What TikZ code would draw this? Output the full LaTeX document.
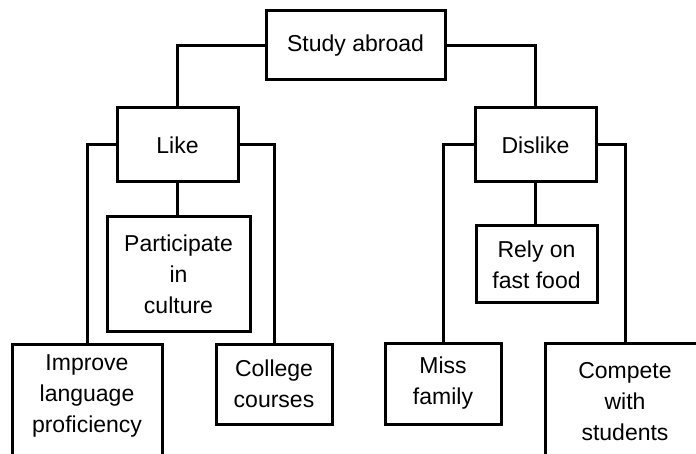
\documentclass[tikz,border=0pt]{standalone}
\usepackage{fontspec}
\setmainfont{Liberation Sans}

\begin{document}
\begin{tikzpicture}[x=1pt, y=-1pt,
    box/.style={draw, line width=3pt, inner sep=0pt, align=center, font=\fontsize{23}{31}\selectfont},
    txt/.style={align=center, inner sep=0pt, font=\fontsize{23}{31}\selectfont},
    link/.style={line width=3pt}]
    % Page frame (the two bottom corner boxes run off the edge)
    \useasboundingbox (0,0) rectangle (696,454);
    \clip (0,0) rectangle (696,454);

    % Root and the two branches
    \node[box, minimum width=179pt, minimum height=69pt] (root) at (355.5,45.5) {Study abroad};
    \node[box, minimum width=121pt, minimum height=74pt] (like) at (177.5,145) {Like};
    \node[box, minimum width=121pt, minimum height=74pt] (dislike) at (535.5,145) {Dislike};

    % Like side
    \node[box, minimum width=143pt, minimum height=114pt] (culture) at (178.5,274) {Participate\\in\\culture};
    \node[box, minimum width=150pt, minimum height=130pt] (lang) at (87,409) {};
    \node[txt] (langtxt) at (87,396) {Improve\\language\\proficiency};
    \node[box, minimum width=116pt, minimum height=80pt] (college) at (274,384) {College\\courses};

    % Dislike side
    \node[box, minimum width=121pt, minimum height=77pt] (food) at (536.5,264.5) {Rely on\\fast food};
    \node[box, minimum width=116pt, minimum height=81pt] (miss) at (443,383.5) {Miss\\family};
    \node[box, minimum width=160pt, minimum height=126pt] (compete) at (625,406) {};
    \node[txt] (competetxt) at (625,402) {Compete\\with\\students};

    % Elbow connectors: side of parent, then down to child
    \foreach \a/\s/\b in {root/west/like, root/east/dislike, like/west/lang, like/east/college,
                          dislike/west/miss, dislike/east/compete} {
      \draw[link] (\a.\s) -| (\b.north);
    }
    % Straight drops to the middle children
    \draw[link] (like.south) -- (like.south |- culture.north);
    \draw[link] (dislike.south) -- (dislike.south |- food.north);
  \end{tikzpicture}
\end{document}
